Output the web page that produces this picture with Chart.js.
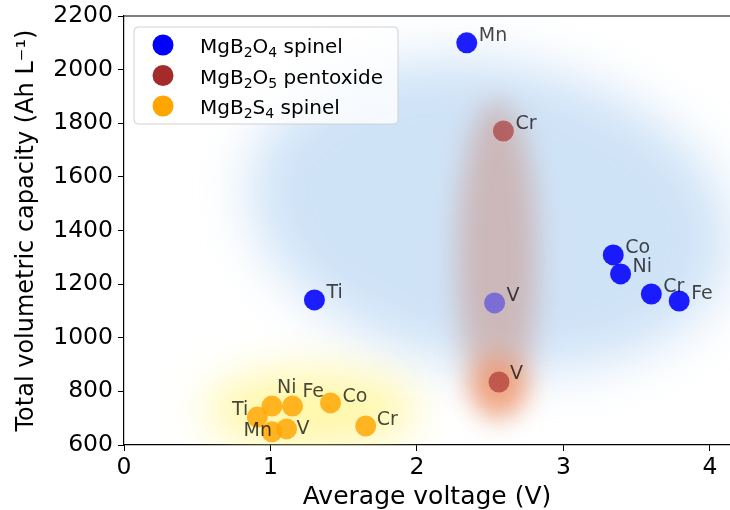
<!DOCTYPE html>
<html>
<head>
<meta charset="utf-8">
<script src="https://cdn.jsdelivr.net/npm/chart.js@4/dist/chart.umd.min.js"></script>
<style>
  html, body { margin: 0; padding: 0; background: #fff; }
  canvas { display: block; }
</style>
</head>
<body>
<canvas id="myChart" width="730" height="510"></canvas>
<script>
// values
const oxideNames = ['Mn', 'Ti', 'Co', 'Ni', 'Cr', 'Fe', 'V'];
const oxideVoltage = [2.34, 1.30, 3.34, 3.39, 3.60, 3.79, 2.53];
const oxideCapacity = [2100, 1141, 1309, 1238, 1163, 1137, 1130];

const pentoxideNames = ['Cr', 'V'];
const pentoxideVoltage = [2.59, 2.56];
const pentoxideCapacity = [1771, 835];

const sulfideNames = ['Ti', 'Ni', 'Fe', 'Co', 'Cr', 'Mn', 'V'];
const sulfideVoltage = [0.91, 1.01, 1.15, 1.41, 1.65, 1.01, 1.11];
const sulfideCapacity = [704, 745, 745, 757, 671, 649, 660];

const xTicks = [0, 1, 2, 3, 4];
const yTicks = [600, 800, 1000, 1200, 1400, 1600, 1800, 2000, 2200];

// legend text pieces: [text, isSubscript]
const seriesLabels = [
  [['MgB', 0], ['2', 1], ['O', 0], ['4', 1], [' spinel', 0]],
  [['MgB', 0], ['2', 1], ['O', 0], ['5', 1], [' pentoxide', 0]],
  [['MgB', 0], ['2', 1], ['S', 0], ['4', 1], [' spinel', 0]]
];
const seriesColors = ['rgb(0,0,255)', 'rgb(165,42,42)', 'rgb(255,165,0)'];

// styling: point colours and label placement [dx, dy, align]
const oxidePointColors = ['rgba(0,0,255,0.88)', 'rgba(0,0,255,0.88)', 'rgba(0,0,255,0.88)', 'rgba(0,0,255,0.88)', 'rgba(0,0,255,0.88)', 'rgba(0,0,255,0.88)', 'rgba(0,0,255,0.4)'];
const pentoxidePointColors = ['rgba(165,42,42,0.62)', 'rgba(165,42,42,0.62)'];
const sulfidePointColors = sulfideNames.map(() => 'rgba(255,165,0,0.82)');

const oxideLabelPos = oxideNames.map(() => [12, -7, 'left']);
const pentoxideLabelPos = [[12, -7, 'left'], [11, -8, 'left']];
const sulfideLabelPos = [[-9, -7, 'right'], [5, -18, 'left'], [10, -14, 'left'], [12, -6, 'left'], [11, -6, 'left'], [0, -1, 'right'], [10, 0, 'left']];

const glows = [
  { x: 2.50, y: 1458, rx: 1.66, ry: 570, rot: 10, blur: 26, color: 'rgba(160,200,240,0.5)' },
  { x: 2.55, y: 1290, rx: 0.27, ry: 597, rot: 0, blur: 14, color: 'rgba(200,130,110,0.45)' },
  { x: 2.56, y: 820, rx: 0.2, ry: 110, rot: 0, blur: 12, color: 'rgba(255,120,50,0.45)' },
  { x: 1.28, y: 730, rx: 0.72, ry: 150, rot: 0, blur: 22, color: 'rgba(255,240,100,0.55)' }
];

const FONT = "'DejaVu Sans', sans-serif";

function toPoints(xs, ys) {
  return xs.map((v, i) => ({ x: v, y: ys[i] }));
}

const glowPlugin = {
  id: 'glow',
  beforeDatasetsDraw(chart) {
    const { ctx, chartArea, scales: { x, y } } = chart;
    ctx.save();
    ctx.beginPath();
    ctx.rect(chartArea.left, chartArea.top, chartArea.width, chartArea.height);
    ctx.clip();
    glows.forEach(g => {
      const cx = x.getPixelForValue(g.x);
      const cy = y.getPixelForValue(g.y);
      const rx = Math.abs(x.getPixelForValue(g.x + g.rx) - cx);
      const ry = Math.abs(y.getPixelForValue(g.y + g.ry) - cy);
      ctx.filter = 'blur(' + g.blur + 'px)';
      ctx.fillStyle = g.color;
      ctx.beginPath();
      ctx.ellipse(cx, cy, rx, ry, g.rot * Math.PI / 180, 0, 2 * Math.PI);
      ctx.fill();
    });
    ctx.restore();
  }
};

const labelPlugin = {
  id: 'pointLabels',
  afterDatasetsDraw(chart) {
    const { ctx, chartArea } = chart;
    const names = [oxideNames, pentoxideNames, sulfideNames];
    const pos = [oxideLabelPos, pentoxideLabelPos, sulfideLabelPos];
    ctx.save();
    ctx.font = '19px ' + FONT;
    ctx.textBaseline = 'middle';
    ctx.fillStyle = 'rgba(0,0,0,0.72)';
    chart.data.datasets.forEach((ds, di) => {
      const meta = chart.getDatasetMeta(di);
      meta.data.forEach((pt, i) => {
        const p = pos[di][i];
        ctx.textAlign = p[2];
        ctx.fillText(names[di][i], pt.x + p[0], pt.y + p[1]);
      });
    });
    // top frame line
    ctx.strokeStyle = '#000';
    ctx.lineWidth = 1.2;
    ctx.beginPath();
    ctx.moveTo(chartArea.left, chartArea.top);
    ctx.lineTo(chartArea.right, chartArea.top);
    ctx.stroke();

    // legend box
    const bx = 134, by = 27, bw = 264, bh = 97;
    ctx.beginPath();
    ctx.roundRect(bx, by, bw, bh, 4);
    ctx.fillStyle = 'rgba(255,255,255,0.8)';
    ctx.fill();
    ctx.strokeStyle = 'rgba(204,204,204,0.9)';
    ctx.lineWidth = 1;
    ctx.stroke();
    ctx.textAlign = 'left';
    ctx.textBaseline = 'alphabetic';
    seriesLabels.forEach((parts, i) => {
      const ly = 45 + i * 30.5;
      ctx.fillStyle = seriesColors[i];
      ctx.beginPath();
      ctx.arc(163, ly, 10.5, 0, 2 * Math.PI);
      ctx.fill();
      ctx.fillStyle = '#000';
      let tx = 200;
      parts.forEach(([txt, sub]) => {
        ctx.font = (sub ? '14px ' : '20px ') + FONT;
        ctx.fillText(txt, tx, ly + 8 + (sub ? 4 : 0));
        tx += ctx.measureText(txt).width;
      });
    });
    ctx.restore();
  }
};

const data = {
  datasets: [
    {
      label: 'MgB2O4 spinel',
      data: toPoints(oxideVoltage, oxideCapacity),
      backgroundColor: oxidePointColors,
      borderWidth: 0,
      pointRadius: 10.5
    },
    {
      label: 'MgB2O5 pentoxide',
      data: toPoints(pentoxideVoltage, pentoxideCapacity),
      backgroundColor: pentoxidePointColors,
      borderWidth: 0,
      pointRadius: 10.5
    },
    {
      label: 'MgB2S4 spinel',
      data: toPoints(sulfideVoltage, sulfideCapacity),
      backgroundColor: sulfidePointColors,
      borderWidth: 0,
      pointRadius: 10.5
    }
  ]
};

const config = {
  type: 'scatter',
  data: data,
  options: {
    responsive: false,
    animation: false,
    layout: { autoPadding: false, padding: { top: 16, right: 0, left: 0, bottom: 0 } },
    plugins: {
      legend: { display: false },
      tooltip: { enabled: false }
    },
    scales: {
      x: {
        type: 'linear',
        min: 0,
        max: 4.137,
        afterFit(scale) { scale.height = 65; scale.paddingRight = 0; scale.paddingLeft = 0; },
        afterBuildTicks(scale) { scale.ticks = xTicks.map(v => ({ value: v })); },
        grid: { display: true, drawOnChartArea: false, tickLength: 6, color: '#000', tickWidth: 1 },
        border: { display: true, color: '#000', width: 1.2 },
        ticks: { color: '#000', font: { family: FONT, size: 23.5 }, padding: 3, maxRotation: 0, callback: v => String(v) },
        title: { display: true, text: 'Average voltage (V)', color: '#000', font: { family: FONT, size: 25 }, padding: { top: 0, bottom: -2 } }
      },
      y: {
        type: 'linear',
        min: 600,
        max: 2200,
        afterFit(scale) { scale.width = 124; scale.paddingTop = 0; scale.paddingBottom = 0; },
        afterBuildTicks(scale) { scale.ticks = yTicks.map(v => ({ value: v })); },
        grid: { display: true, drawOnChartArea: false, tickLength: 6, color: '#000', tickWidth: 1 },
        border: { display: true, color: '#000', width: 1.2 },
        ticks: { color: '#000', font: { family: FONT, size: 23.5 }, padding: 5, callback: v => String(v) },
        title: { display: true, text: 'Total volumetric capacity (Ah L\u207B\u00B9)', color: '#000', font: { family: FONT, size: 24 }, padding: { top: 12, bottom: 0 } }
      }
    }
  },
  plugins: [glowPlugin, labelPlugin]
};

const myChart = new Chart(document.getElementById('myChart'), config);
</script>
</body>
</html>
